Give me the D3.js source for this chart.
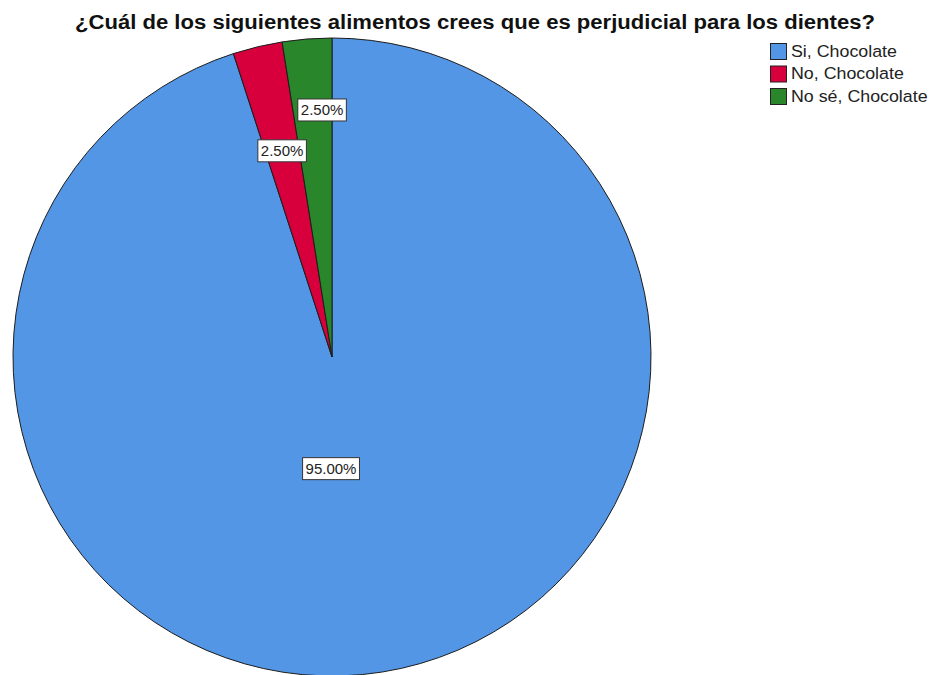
<!DOCTYPE html>
<html>
<head>
<meta charset="utf-8">
<script src="https://cdn.jsdelivr.net/npm/d3@7"></script>
<style>
  html, body { margin: 0; padding: 0; background: #fff; }
  svg { display: block; }
</style>
</head>
<body>
<svg id="chart" width="933" height="675"></svg>
<script>
// Survey answers and their shares (percent)
const categories = ["Si, Chocolate", "No, Chocolate", "No sé, Chocolate"];
const percentages = [95.0, 2.5, 2.5];
const colors = ["#5496E6", "#D7003C", "#2A862A"];
const title = "¿Cuál de los siguientes alimentos crees que es perjudicial para los dientes?";

// Where each value label sits: angle (degrees clockwise from 12 o'clock) and fraction of radius
const labelSpots = [
  { angle: 180.5, frac: 0.35 },
  { angle: -13.6, frac: 0.665 },
  { angle: -2.3, frac: 0.775 }
];

const svg = d3.select("#chart");
const font = "'Liberation Sans', Arial, sans-serif";

const cx = 332, cy = 357, radius = 319;

svg.append("text")
  .attr("x", 75).attr("y", 29)
  .attr("font-family", font)
  .attr("font-weight", "bold")
  .attr("font-size", 19.5)
  .attr("textLength", 800)
  .attr("lengthAdjust", "spacingAndGlyphs")
  .attr("fill", "#111")
  .text(title);

const data = categories.map((c, i) => ({ name: c, value: percentages[i], color: colors[i] }));

const pie = d3.pie().value(d => d.value).sort(null);
const arc = d3.arc().innerRadius(0).outerRadius(radius);

const g = svg.append("g").attr("transform", `translate(${cx},${cy})`);

const slices = pie(data);

g.selectAll("path.slice")
  .data(slices)
  .join("path")
  .attr("class", "slice")
  .attr("d", arc)
  .attr("fill", d => d.data.color)
  .attr("stroke", "#1c1c1c")
  .attr("stroke-width", 1);

// Value labels in white boxes
const fmt = d3.format(".2f");
const labels = g.selectAll("g.lbl")
  .data(slices)
  .join("g")
  .attr("class", "lbl")
  .attr("transform", (d, i) => {
    const s = labelSpots[i];
    const a = s.angle * Math.PI / 180;
    const r = s.frac * radius;
    return `translate(${Math.sin(a) * r},${-Math.cos(a) * r})`;
  });

labels.each(function(d) {
  const sel = d3.select(this);
  const t = sel.append("text")
    .attr("text-anchor", "middle")
    .attr("y", 5.5)
    .attr("font-family", font)
    .attr("font-size", 15)
    .attr("fill", "#222")
    .text(fmt(d.data.value) + "%");
  const bb = t.node().getBBox();
  sel.insert("rect", "text")
    .attr("x", bb.x - 3)
    .attr("y", -11)
    .attr("width", bb.width + 6)
    .attr("height", 22)
    .attr("fill", "#fff")
    .attr("stroke", "#333")
    .attr("stroke-width", 1);
});

// Legend
const legend = svg.append("g").attr("transform", "translate(770,43)");
const rows = legend.selectAll("g")
  .data(data)
  .join("g")
  .attr("transform", (d, i) => `translate(0,${i * 22.5})`);

rows.append("rect")
  .attr("x", 0.5).attr("y", 0.5)
  .attr("width", 16).attr("height", 16)
  .attr("fill", d => d.color)
  .attr("stroke", "#222")
  .attr("stroke-width", 1);

rows.append("text")
  .attr("x", 0).attr("y", 13.5)
  .attr("transform", "translate(21,0) scale(1.08,1)")
  .attr("font-family", font)
  .attr("font-size", 16.5)
  .attr("fill", "#222")
  .text(d => d.name);
</script>
</body>
</html>
